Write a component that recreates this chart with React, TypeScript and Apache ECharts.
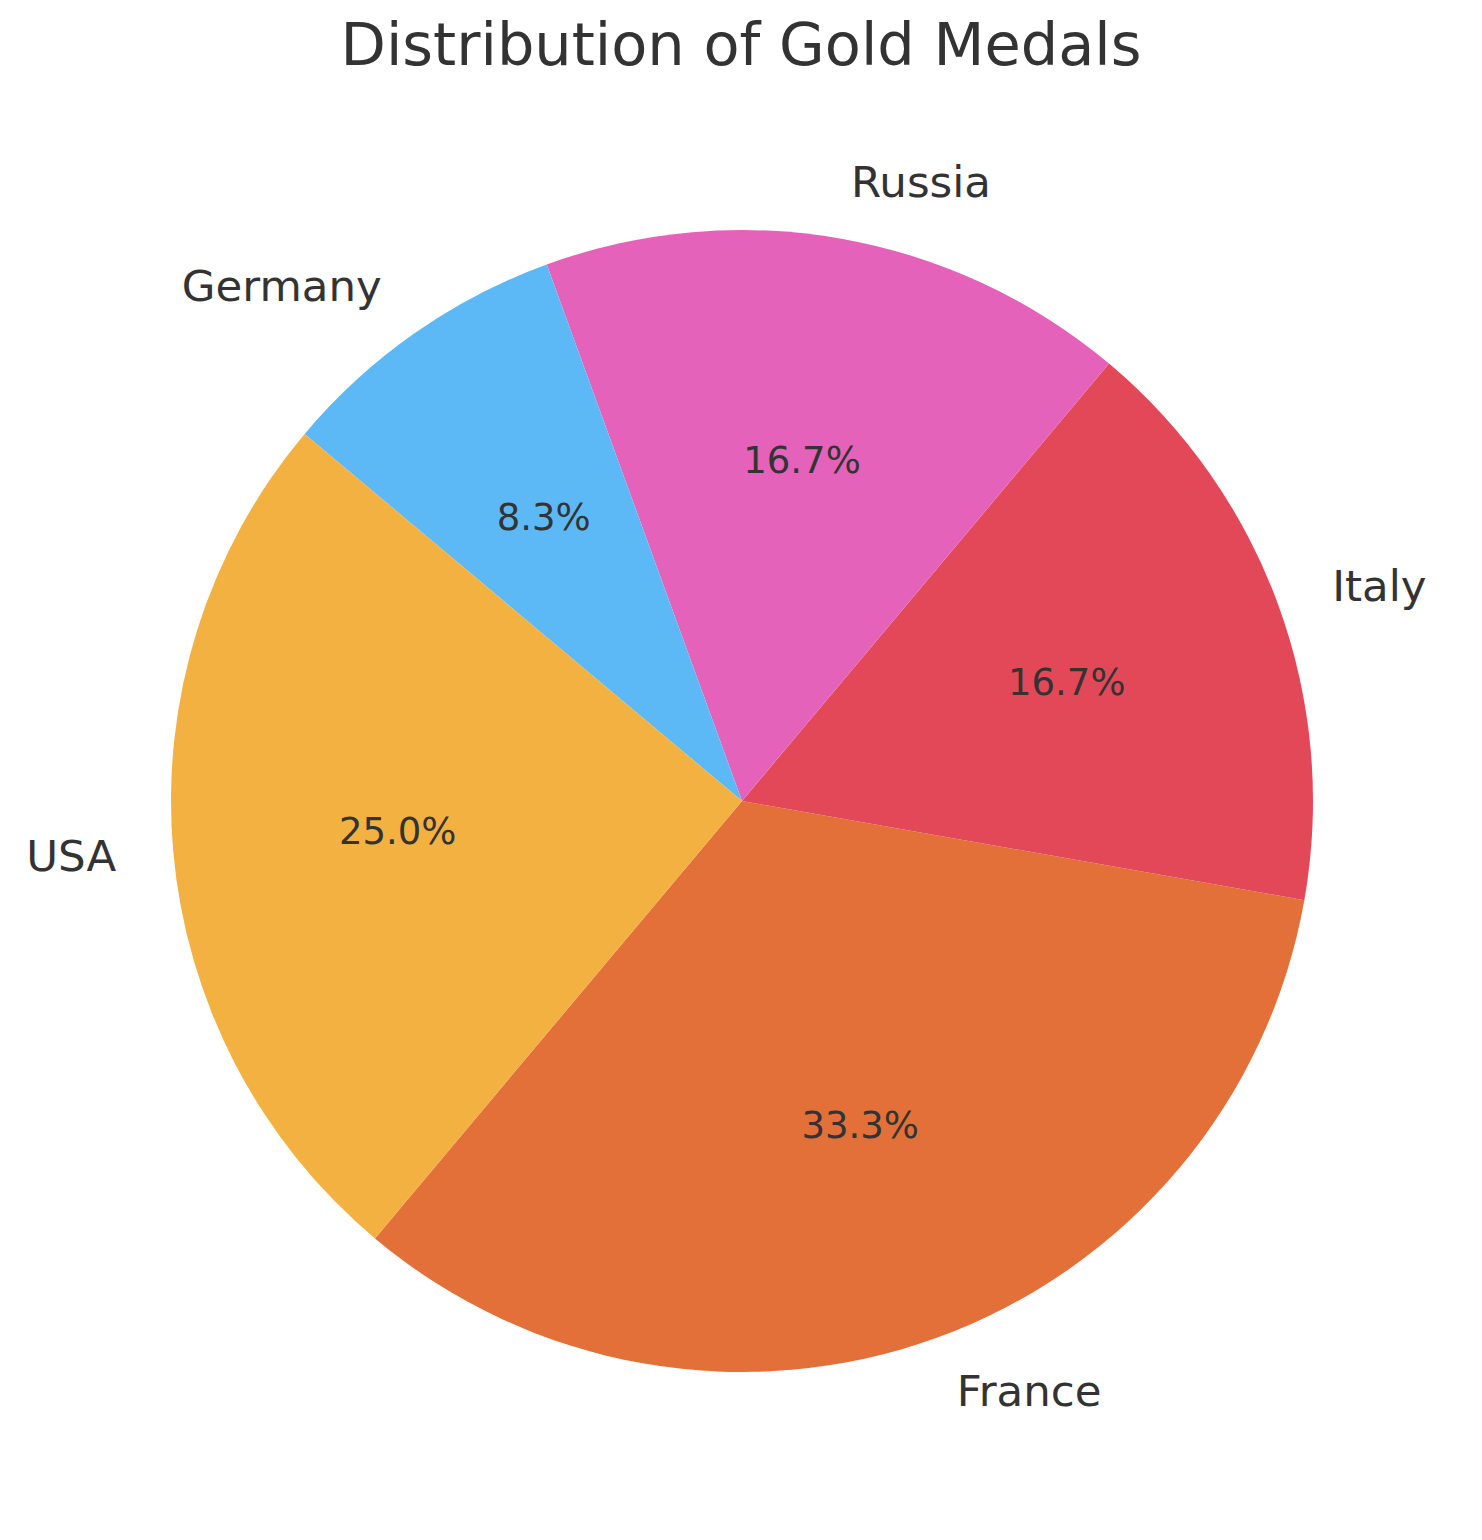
import React, { useEffect, useRef } from "react";
import * as echarts from "echarts";

const countries = ["France", "Italy", "Russia", "Germany", "USA"];
const goldMedals = [4, 2, 2, 1, 3];
const sliceColors = ["#E27038", "#E24858", "#E562BA", "#5DB9F6", "#F2B140"];

const TEXT = "#333333";
const FONT = "DejaVu Sans";

export default function App() {
  const ref = useRef<HTMLDivElement>(null);
  useEffect(() => {
    if (!ref.current) return;
    const chart = echarts.init(ref.current, null, { renderer: "svg" });
    const data = countries.map((name, i) => ({
      name,
      value: goldMedals[i],
      itemStyle: { color: sliceColors[i] },
    }));
    const R = 571;
    const START = 230;
    chart.setOption({
      animation: false,
      backgroundColor: "#ffffff",
      title: {
        text: "Distribution of Gold Medals",
        left: "center",
        top: 2,
        textStyle: { fontFamily: FONT, fontSize: 59, fontWeight: "normal", color: TEXT },
      },
      series: [
        {
          type: "pie",
          center: [734, 793],
          radius: [0, R],
          startAngle: START,
          clockwise: false,
          avoidLabelOverlap: false,
          silent: true,
          itemStyle: { borderWidth: 0 },
          label: {
            show: true,
            position: "outside",
            formatter: "{b}",
            fontFamily: FONT,
            fontSize: 43.5,
            color: TEXT,
            distanceToLabelLine: 0,
          },
          labelLine: { show: false, length: R * 0.1, length2: 0 },
          emphasis: { disabled: true },
          data,
        },
        {
          type: "pie",
          center: [734, 793],
          radius: [0, R * 1.2],
          startAngle: START,
          clockwise: false,
          avoidLabelOverlap: false,
          silent: true,
          percentPrecision: 1,
          itemStyle: { color: "rgba(0,0,0,0)", borderWidth: 0 },
          label: {
            show: true,
            position: "inside",
            formatter: (p: any) => p.percent.toFixed(1) + "%",
            fontFamily: FONT,
            fontSize: 37,
            color: TEXT,
          },
          labelLine: { show: false },
          emphasis: { disabled: true },
          data: countries.map((name, i) => ({ name, value: goldMedals[i] })),
        },
      ],
    });
    return () => chart.dispose();
  }, []);
  return <div ref={ref} style={{ width: 1466, height: 1524 }} />;
}
